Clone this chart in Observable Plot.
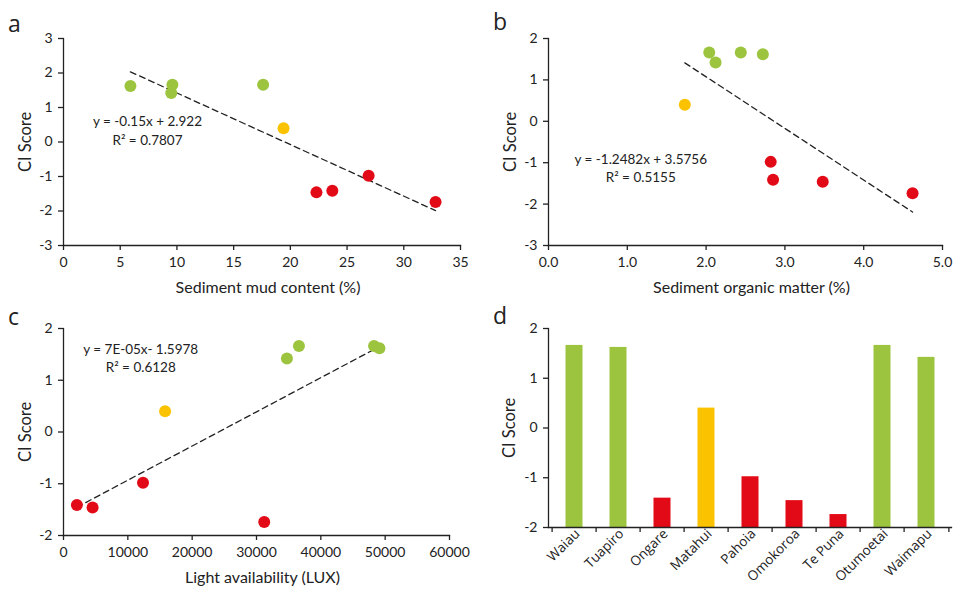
<!DOCTYPE html>
<html>
<head>
<meta charset="utf-8">
<script src="https://cdn.jsdelivr.net/npm/d3@7"></script>
<script src="https://cdn.jsdelivr.net/npm/@observablehq/plot@0.6"></script>
<style>
  html, body { margin: 0; padding: 0; background: #fff; }
  #wrap { position: relative; width: 953px; height: 592px; overflow: hidden; font-family: Lato, "Open Sans", sans-serif; color: #222; }
  .panel { position: absolute; }
  .letter { position: absolute; font-family: "Open Sans", Lato, sans-serif; font-size: 23px; line-height: 1; color: #222; }
</style>
</head>
<body>
<div id="wrap"></div>
<script>
// ---- data ----
const sites     = ["Waiau", "Tuapiro", "Ongare", "Matahui", "Pahoia", "Omokoroa", "Te Puna", "Otumoetai", "Waimapu"];
const ciScore   = [1.66, 1.62, -1.41, 0.40, -0.98, -1.46, -1.74, 1.66, 1.42];
const condition = ["good", "good", "poor", "moderate", "poor", "poor", "poor", "good", "good"];
const mudContent    = [9.6, 5.9, 23.7, 19.4, 26.9, 22.3, 32.8, 17.6, 9.5];      // %
const organicMatter = [2.04, 2.72, 2.85, 1.73, 2.82, 3.48, 4.62, 2.44, 2.12];   // %
const lightLux      = [36600, 49110, 2080, 15790, 12360, 4520, 31200, 48270, 34730];

const conditionNames  = ["good", "moderate", "poor"];
const conditionColors = ["#9DC43F", "#FBC200", "#E30A17"];

const eqA = ["y = -0.15x + 2.922", "R² = 0.7807"];
const eqB = ["y = -1.2482x + 3.5756", "R² = 0.5155"];
const eqC = ["y = 7E-05x- 1.5978", "R² = 0.6128"];
// equation anchor positions (data units)
const eqAPos = [7.4, 0.36];
const eqBPos = [1.17, -1.10];
const eqCPos = [12000, 1.45];

const ticksA_x = [0, 5, 10, 15, 20, 25, 30, 35];
const ticksB_x = [0, 1, 2, 3, 4, 5];
const ticksC_x = [0, 10000, 20000, 30000, 40000, 50000, 60000];

const yTitle = "CI Score";
const xTitleA = "Sediment mud content (%)";
const xTitleB = "Sediment organic matter (%)";
const xTitleC = "Light availability (LUX)";

const rows = sites.map((s, i) => ({
  site: s, ci: ciScore[i], cond: condition[i],
  mud: mudContent[i], om: organicMatter[i], lux: lightLux[i]
}));

const FONT = "Lato, 'Open Sans', sans-serif";
const INK = "#222";
const TICK_FS = 14;
const colorScale = { domain: conditionNames, range: conditionColors };

function yTitleMark(dx) {
  return Plot.text([yTitle], { frameAnchor: "left", text: d => d, rotate: -90, dx,
    textAnchor: "middle", lineAnchor: "middle", fontSize: 16.5, fill: INK });
}
function xTitleMark(t, dy) {
  return Plot.text([t], { frameAnchor: "bottom", text: d => d, dx: 6, dy,
    textAnchor: "middle", lineAnchor: "middle", fontSize: 16, fill: INK });
}

function scatter({xKey, xDomain, xTicks, xFmt, xLabel, yDomain, eq, eqPos, w, h, m}) {
  const yTicks = d3.range(yDomain[0], yDomain[1] + 1);
  return Plot.plot({
    width: w, height: h,
    marginLeft: m[0], marginRight: m[1], marginTop: m[2], marginBottom: m[3],
    style: { fontFamily: FONT, fontSize: "14px", color: INK, background: "transparent", overflow: "visible" },
    x: { domain: xDomain },
    y: { domain: yDomain },
    color: colorScale,
    marks: [
      Plot.frame({ anchor: "left", stroke: INK, strokeWidth: 1.3 }),
      Plot.frame({ anchor: "bottom", stroke: INK, strokeWidth: 1.3 }),
      Plot.axisY({ ticks: yTicks, tickSize: 5, tickPadding: 6, tickFormat: d => String(d), label: null,
        strokeWidth: 1.3, fontSize: TICK_FS }),
      Plot.axisX({ ticks: xTicks, tickSize: 5, tickPadding: 7, tickFormat: xFmt, label: null,
        strokeWidth: 1.3, fontSize: TICK_FS }),
      yTitleMark(-38),
      xTitleMark(xLabel, 42),
      Plot.linearRegressionY(rows, { x: xKey, y: "ci", ci: 0, stroke: INK, strokeWidth: 1.3, strokeDasharray: "6,4" }),
      Plot.dot(rows, { x: xKey, y: "ci", r: 6, fill: "cond", stroke: null }),
      Plot.text([eq.join("\n")], { x: () => eqPos[0], y: () => eqPos[1], text: d => d,
        textAnchor: "middle", lineAnchor: "middle", lineHeight: 1.35, fontSize: 13.5, fill: INK })
    ]
  });
}

const wrap = document.getElementById("wrap");
function place(node, left, top) {
  const div = document.createElement("div");
  div.className = "panel";
  div.style.left = left + "px";
  div.style.top = top + "px";
  div.appendChild(node);
  wrap.appendChild(div);
}
function letter(t, left, top) {
  const d = document.createElement("div");
  d.className = "letter";
  d.textContent = t;
  d.style.left = left + "px";
  d.style.top = top + "px";
  wrap.appendChild(d);
}

// panel a
place(scatter({
  xKey: "mud", xDomain: [0, 35], xTicks: ticksA_x, xFmt: d => String(d),
  xLabel: xTitleA, yDomain: [-3, 3], eq: eqA, eqPos: eqAPos,
  w: 476, h: 300, m: [63, 16, 38, 55]
}), 0, 0);

// panel b
place(scatter({
  xKey: "om", xDomain: [0, 5], xTicks: ticksB_x, xFmt: d => d.toFixed(1),
  xLabel: xTitleB, yDomain: [-3, 2], eq: eqB, eqPos: eqBPos,
  w: 477, h: 300, m: [72, 11, 38, 55]
}), 476, 0);

// panel c
place(scatter({
  xKey: "lux", xDomain: [0, 60000], xTicks: ticksC_x, xFmt: d => String(d),
  xLabel: xTitleC, yDomain: [-2, 2], eq: eqC, eqPos: eqCPos,
  w: 476, h: 292, m: [63, 27, 28, 57]
}), 0, 300);

// panel d
const yDomainD = [-2, 2];
const bandW = (477 - 72 - 2) / sites.length;
place(Plot.plot({
  width: 477, height: 292,
  marginLeft: 72, marginRight: 2, marginTop: 28, marginBottom: 65,
  style: { fontFamily: FONT, fontSize: "14px", color: INK, background: "transparent", overflow: "visible" },
  x: { domain: sites, padding: 0 },
  y: { domain: yDomainD },
  color: colorScale,
  marks: [
    Plot.barY(rows, { x: "site", y1: () => yDomainD[0], y2: "ci", fill: "cond", insetLeft: 13.5, insetRight: 13.5 }),
    Plot.frame({ anchor: "left", stroke: INK, strokeWidth: 1.3 }),
    Plot.frame({ anchor: "bottom", stroke: INK, strokeWidth: 1.3 }),
    Plot.axisY({ ticks: d3.range(-2, 3), tickSize: 5, tickPadding: 6, tickFormat: d => String(d), label: null,
      strokeWidth: 1.3, fontSize: TICK_FS }),
    yTitleMark(-39),
    Plot.axisX({ tickSize: 5, dx: -bandW / 2, fill: "none", label: null, strokeWidth: 1.3 }),
    Plot.axisX({ ticks: [sites[sites.length - 1]], tickSize: 5, dx: bandW / 2, fill: "none", label: null, strokeWidth: 1.3 }),
    Plot.axisX({ tickSize: 0, tickPadding: 4, tickRotate: -45, label: null, dx: 3,
      fontFamily: "'Open Sans', sans-serif", fontSize: 13.5 })
  ]
}), 476, 300);

letter("a", 8, 12);
letter("b", 493, 10);
letter("c", 8, 305);
letter("d", 493, 304);
</script>
</body>
</html>
